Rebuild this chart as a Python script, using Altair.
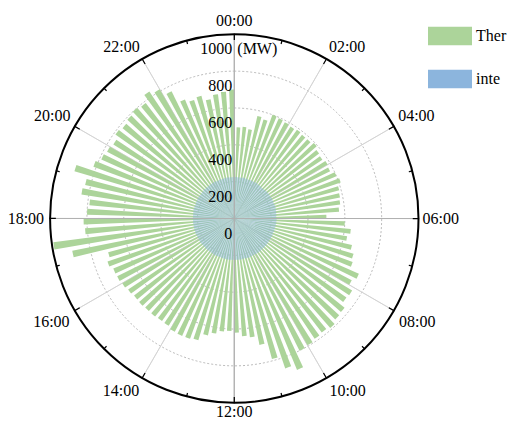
import math
import altair as alt
import pandas as pd

# ---------------- data ----------------
ther = [700, 495, 500, 490, 570, 560, 600, 595, 590, 585, 590, 585,
        585, 595, 580, 575, 585, 580, 600, 610, 590, 585, 580, 570,
        500, 600, 635, 620, 655, 675, 685, 740, 720, 750, 745, 770,
        775, 790, 780, 785, 795, 800, 890, 860, 790, 700, 650, 640,
        620, 611, 616, 632, 651, 689, 696, 698, 695, 683, 681, 684,
        684, 687, 686, 693, 702, 709, 711, 727, 709, 897, 991, 812,
        818, 800, 790, 840, 830, 905, 815, 790, 780, 770, 790, 780,
        790, 800, 790, 830, 810, 770, 700, 680, 690, 660, 680, 690]
inte = [225, 226, 224, 225, 227, 225, 224, 226, 225, 228, 226, 225,
        224, 226, 228, 229, 230, 231, 230, 229, 232, 231, 230, 229,
        228, 230, 229, 228, 227, 226, 225, 226, 225, 224, 225, 226,
        225, 224, 225, 226, 225, 224, 225, 226, 225, 224, 225, 225,
        225, 224, 225, 226, 225, 224, 223, 224, 225, 224, 223, 224,
        224, 223, 224, 225, 224, 223, 224, 225, 224, 225, 224, 225,
        224, 225, 224, 225, 226, 225, 224, 225, 226, 225, 224, 225,
        226, 225, 224, 225, 226, 225, 224, 225, 224, 225, 226, 225]
series_names = ["Ther", "inte"]
hour_labels = ["00:00", "02:00", "04:00", "06:00", "08:00", "10:00",
               "12:00", "14:00", "16:00", "18:00", "20:00", "22:00"]
r_ticks = [0, 200, 400, 600, 800, 1000]
unit_label = "(MW)"

# ---------------- styling / geometry ----------------
FONT = "Liberation Serif"
GREEN = "#acd49a"
BLUE = "#8cb5dd"
TAU = 2 * math.pi
W, H = 499, 411
CX, CY = 226.3, 210.5
R = 184.2
RMAX = 1000
N = len(ther)
STEP = 360 / N
BAR_W = 2.3

theta_scale = alt.Scale(type="linear", domain=[0, 360], range=[0, TAU])
rad_scale = alt.Scale(type="linear", domain=[0, RMAX], range=[0, R], zero=True, nice=False)
pos = dict(x=alt.value(CX), y=alt.value(CY))


def rad(field):
    return alt.Radius(field, scale=rad_scale, stack=None)


rows = []
for i in range(N):
    for name, vals, w in zip(series_names, [ther, inte], [BAR_W, STEP]):
        rows.append({"i": i, "t0": i * STEP - w, "t1": i * STEP,
                     "series": name, "v": vals[i]})
bars_df = pd.DataFrame(rows)

color_scale = alt.Scale(domain=series_names, range=[GREEN, BLUE])
legend = alt.Legend(
    title=None, orient="none", legendX=420, legendY=6,
    symbolType="M-1,-0.42L1,-0.42L1,0.42L-1,0.42Z", symbolSize=1936,
    symbolStrokeWidth=0, symbolOpacity=1, labelFont=FONT, labelFontSize=16,
    labelColor="black", labelOffset=4, rowPadding=11, padding=0)

# grid circles (dashed)
grid = alt.Chart(pd.DataFrame({"r": r_ticks[1:-1]})).mark_arc(
    fill="transparent", stroke="#a8a8a8", strokeWidth=0.8, strokeDash=[2, 2]
).encode(theta=alt.value(0), theta2=alt.value(TAU),
         radius=rad("r:Q"), radius2=alt.value(0), **pos)

hours_df = pd.DataFrame({"h": list(range(0, 24))})
hours_df["a"] = hours_df["h"] * 15
hours_df["a2"] = hours_df["a"] + 0.01
hours_df["major"] = hours_df["h"] % 2 == 0
hours_df["rin"] = [RMAX - (28 if m else 16) for m in hours_df["major"]]
hours_df["rmax"] = RMAX

spokes = alt.Chart(hours_df).transform_filter("datum.major").mark_arc(
    fill="transparent", stroke="#d2d2d2", strokeWidth=0.8
).encode(theta=alt.Theta("a:Q", scale=theta_scale), theta2="a2:Q",
         radius=rad("rmax:Q"), radius2=alt.value(0), **pos)

green = alt.Chart(bars_df).transform_filter(f"datum.series == '{series_names[0]}'").mark_arc(
    strokeWidth=0
).encode(theta=alt.Theta("t0:Q", scale=theta_scale), theta2="t1:Q",
         radius=rad("v:Q"), radius2=alt.value(0),
         color=alt.Color("series:N", scale=color_scale, legend=legend), **pos)

blue = alt.Chart(bars_df).transform_filter(f"datum.series == '{series_names[1]}'").mark_arc(
    strokeWidth=0, fillOpacity=0.48
).encode(theta=alt.Theta("t0:Q", scale=theta_scale), theta2="t1:Q",
         radius=rad("v:Q"), radius2=alt.value(0),
         color=alt.Color("series:N", scale=color_scale, legend=legend), **pos)

axes_lines = alt.Chart(hours_df).transform_filter("datum.h % 6 == 0").mark_arc(
    fill="transparent", stroke="#b0b0b0", strokeWidth=0.9
).encode(theta=alt.Theta("a:Q", scale=theta_scale), theta2="a2:Q",
         radius=rad("rmax:Q"), radius2=alt.value(0), **pos)

outer = alt.Chart(pd.DataFrame({"r": [RMAX]})).mark_arc(
    fill="transparent", stroke="black", strokeWidth=2
).encode(theta=alt.value(0), theta2=alt.value(TAU),
         radius=rad("r:Q"), radius2=alt.value(0), **pos)

ticks = alt.Chart(hours_df).mark_arc(
    fill="transparent", stroke="black", strokeWidth=1.2
).encode(theta=alt.Theta("a:Q", scale=theta_scale), theta2="a2:Q",
         radius=rad("rmax:Q"), radius2=alt.Radius2("rin:Q"), **pos)

# radial tick labels
rlab = alt.Chart(pd.DataFrame({"r": r_ticks, "t": [str(v) for v in r_ticks]})).mark_text(
    font=FONT, fontSize=16, align="right", baseline="top", dx=-2, dy=7, color="black"
).encode(theta=alt.value(0), radius=rad("r:Q"), text="t:N", **pos)
unit = alt.Chart(pd.DataFrame({"r": [RMAX], "t": [unit_label]})).mark_text(
    font=FONT, fontSize=16, align="left", baseline="top", dx=3, dy=7, color="black"
).encode(theta=alt.value(0), radius=rad("r:Q"), text="t:N", **pos)

# hour labels
lab_df = pd.DataFrame({"lab": hour_labels})
lab_df["a"] = [int(s[:2]) * 15 for s in hour_labels]
groups = [
    ([0], "center", "bottom", 5),
    ([30, 60], "left", "bottom", 5),
    ([90], "left", "middle", 4),
    ([120, 150], "left", "top", 6),
    ([180], "center", "top", 1),
    ([210, 240], "right", "top", 6),
    ([270], "right", "middle", 6),
    ([300, 330], "right", "bottom", 5),
]
hour_layers = []
for angs, al, bl, pad in groups:
    cond = " || ".join(f"datum.a == {a}" for a in angs)
    hour_layers.append(
        alt.Chart(lab_df).transform_filter(cond).mark_text(
            font=FONT, fontSize=16, align=al, baseline=bl, color="black"
        ).encode(theta=alt.Theta("a:Q", scale=theta_scale), radius=alt.value(R + pad),
                 text="lab:N", **pos)
    )

chart = alt.layer(grid, spokes, green, blue, axes_lines, outer, ticks, rlab, unit,
                  *hour_layers).properties(
    width=W, height=H, padding=0, autosize=alt.AutoSizeParams(type="none")
).configure_view(stroke=None)

chart.save("out.html", embed_options={"renderer": "svg", "actions": False})
